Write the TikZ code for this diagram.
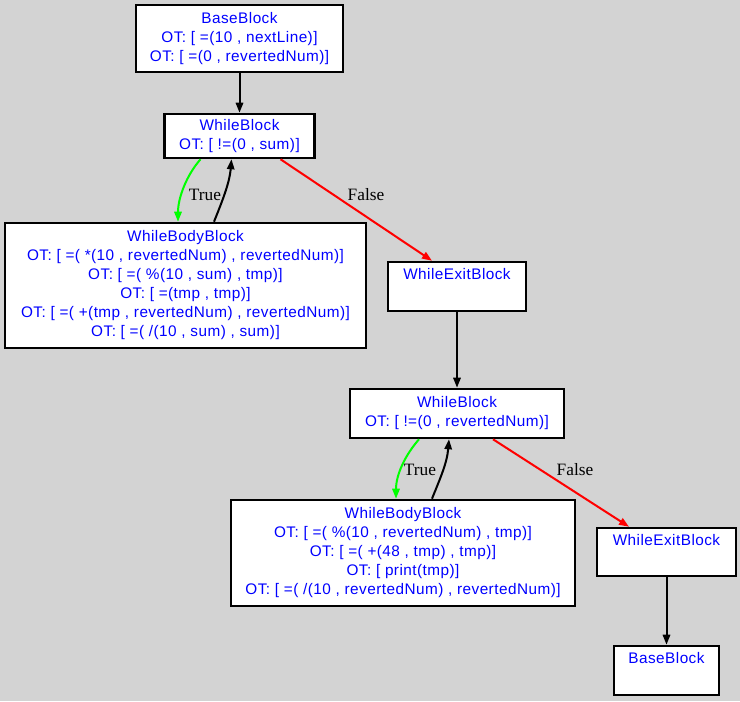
\documentclass[tikz,border=0pt]{standalone}
\usepackage{fontspec}
\setmainfont{Liberation Serif}
\newfontfamily\blksans[LetterSpace=3]{Liberation Sans}
\usetikzlibrary{arrows.meta,calc}
\definecolor{bgray}{HTML}{D3D3D3}
\definecolor{gvblue}{HTML}{0000FF}
\definecolor{gvgreen}{HTML}{00FF00}
\definecolor{gvred}{HTML}{FF0000}
\tikzset{
  blk/.style={draw=black, fill=white, line width=1.9pt, inner sep=0pt, align=center,
    text=gvblue, font=\blksans\fontsize{11.5}{14.25}\selectfont},
  arr/.style={line width=1.5pt, -{Triangle[length=7.5pt,width=5.5pt]}},
  lbl/.style={font=\fontsize{13}{14}\selectfont, text=black, inner sep=0pt}
}
\begin{document}
\begin{tikzpicture}[x=0.75pt,y=-0.75pt]
\fill[bgray] (0,0) rectangle (740,701);
\useasboundingbox (0,0) rectangle (740,701);

\node[blk, minimum width=207*0.75pt, minimum height=67*0.75pt] (b1) at (239.5,38.5)
  {BaseBlock\\OT: [ =(10 , nextLine)]\\OT: [ =(0 , revertedNum)]};
\node[blk, minimum width=150*0.75pt, minimum height=44*0.75pt] (w1) at (239.5,136)
  {WhileBlock\\OT: [ !=(0 , sum)]};
\node[blk, minimum width=361*0.75pt, minimum height=125*0.75pt] (body1) at (185.5,285.5)
  {WhileBodyBlock\\OT: [ =( *(10 , revertedNum) , revertedNum)]\\OT: [ =( \%(10 , sum) , tmp)]\\OT: [ =(tmp , tmp)]\\OT: [ =( +(tmp , revertedNum) , revertedNum)]\\OT: [ =( /(10 , sum) , sum)]};
\node[blk, minimum width=138*0.75pt, minimum height=49*0.75pt] (exit1) at (457,286.5)
  {WhileExitBlock\\\strut};
\node[blk, minimum width=214*0.75pt, minimum height=49*0.75pt] (w2) at (457,413.5)
  {WhileBlock\\OT: [ !=(0 , revertedNum)]};
\node[blk, minimum width=344*0.75pt, minimum height=106*0.75pt] (body2) at (403,553)
  {WhileBodyBlock\\OT: [ =( \%(10 , revertedNum) , tmp)]\\OT: [ =( +(48 , tmp) , tmp)]\\OT: [ print(tmp)]\\OT: [ =( /(10 , revertedNum) , revertedNum)]};
\node[blk, minimum width=139*0.75pt, minimum height=48*0.75pt] (exit2) at (666.5,552)
  {WhileExitBlock\\\strut};
\node[blk, minimum width=105*0.75pt, minimum height=49*0.75pt] (b2) at (666.5,670.5)
  {BaseBlock\\\strut};

% edges
\draw[arr] (b1.south) -- (w1.north);
\draw[arr, gvgreen] ($(w1.south)+(-39,0)$) .. controls +(-14,16) and +(0,-24) .. ($(body1.north)+(-7.5,0)$);
\node[lbl] (t1) at (205,195) {True};
\draw[arr] ($(body1.north)+(28.5,0)$) .. controls +(8,-20) and +(-2,24) .. ($(w1.south)+(-8,0)$);
\draw[arr, gvred] ($(w1.south)+(41,0)$) -- ($(exit1.north)+(-25,0)$);
\node[lbl] (f1) at (366,195) {False};

\draw[arr] (exit1.south) -- (w2.north);
\draw[arr, gvgreen] ($(w2.south)+(-38,0)$) .. controls +(-14,16) and +(0,-24) .. ($(body2.north)+(-7,0)$);
\node[lbl] (t2) at (420,470) {True};
\draw[arr] ($(body2.north)+(29,0)$) .. controls +(8,-20) and +(-2,24) .. ($(w2.south)+(-8,0)$);
\draw[arr, gvred] ($(w2.south)+(36,0)$) -- ($(exit2.north)+(-37.5,0)$);
\node[lbl] (f2) at (575,470) {False};

\draw[arr] (exit2.south) -- (b2.north);
\end{tikzpicture}
\end{document}
